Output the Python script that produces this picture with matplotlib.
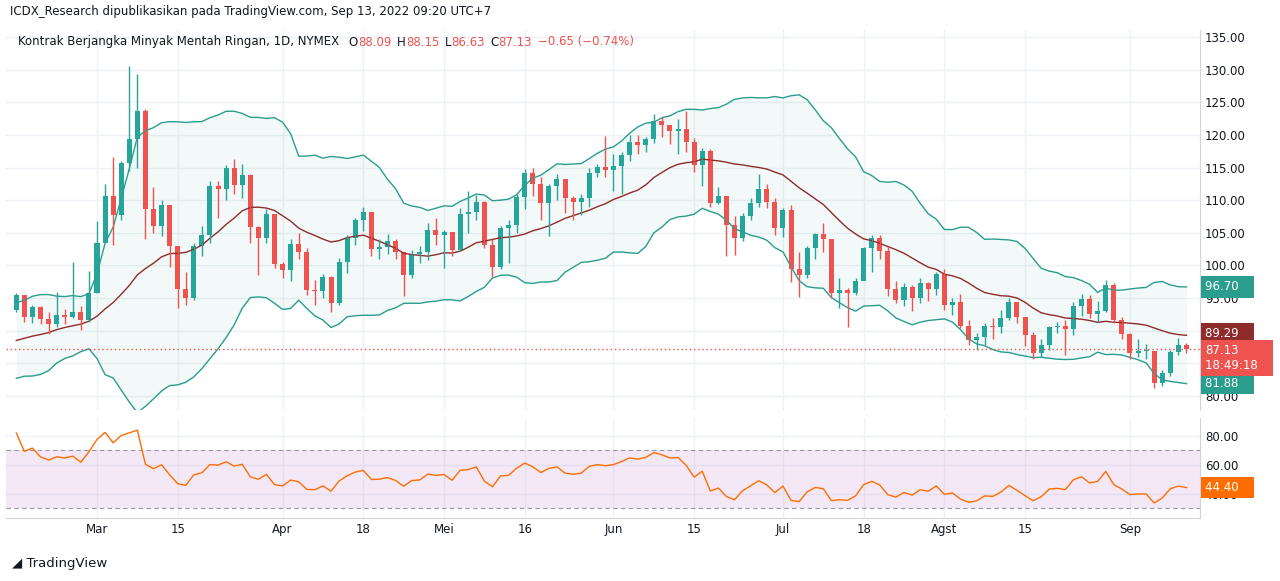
import matplotlib
matplotlib.use("Agg")
import matplotlib.pyplot as plt
import matplotlib.transforms as mtransforms
import numpy as np
import pandas as pd

# closes before the visible window (used only to warm up the indicators)
pre_closes = [83.82, 85.43, 86.96, 86.90, 85.14, 83.31, 85.60, 87.35, 86.61, 86.82,
              88.15, 88.20, 88.26, 90.27, 92.31, 91.32, 89.36, 89.66, 89.88, 93.10]

closes = [95.46, 92.07, 93.66, 91.76, 91.07, 92.35, 92.10, 92.81, 91.59, 95.72,
          103.41, 110.60, 107.67, 115.68, 119.40, 123.70, 108.70, 106.02, 109.33, 103.01,
          96.44, 95.04, 102.98, 104.70, 112.12, 111.76, 114.93, 112.34, 113.90, 105.96,
          104.24, 107.82, 100.28,
          99.27, 103.28, 102.00, 96.23, 96.03, 98.26, 94.29, 100.60, 104.25, 106.95,
          108.21, 102.56, 102.75, 103.79, 102.07, 98.54, 101.70, 102.02, 105.36, 104.69,
          105.17, 102.41, 107.81, 108.26, 109.77, 103.09, 99.76, 105.71, 106.13, 110.49,
          114.20, 112.40, 109.59, 112.21, 113.23, 110.29, 109.77, 110.33, 114.09, 115.07, 114.67,
          115.26, 116.87, 118.87, 118.50, 119.41, 122.11, 121.51, 120.67, 120.93, 118.93,
          115.31, 117.59, 109.56, 110.65, 106.19, 104.27, 107.62, 109.57, 111.76, 109.78, 105.76,
          108.43, 99.50, 98.53, 102.73, 104.79, 104.09, 95.84, 96.30, 95.78, 97.59,
          102.60, 104.22, 102.26, 96.35, 94.70, 96.70, 94.98, 97.26, 96.42, 98.62,
          93.89, 94.42, 90.66, 88.54, 89.01, 90.76, 90.50, 91.93, 94.34, 92.09,
          89.41, 86.53, 87.85, 90.50, 90.77, 90.23, 93.74, 94.89, 92.52, 93.06,
          97.01, 91.64, 89.55,
          86.61, 86.87, 86.88, 81.94, 83.54, 86.79, 87.78, 87.13]

highs = [95.82, 95.0, 94.0, 93.8, 92.9, 96.0, 93.3, 100.5, 93.8, 99.1,
         106.8, 112.5, 116.6, 116.0, 130.5, 129.4, 124.0, 112.0, 110.0, 109.0,
         103.0, 99.0, 103.5, 106.0, 112.9, 113.0, 115.4, 116.3, 115.5, 114.0,
         106.1, 108.6, 107.6,
         100.5, 104.0, 104.9, 102.6, 97.8, 98.7, 98.4, 101.2, 104.6, 107.3,
         109.0, 107.7, 104.0, 104.8, 104.0, 101.0, 102.4, 103.0, 106.5, 107.2,
         105.4, 105.0, 108.8, 111.4, 110.8, 109.8, 104.0, 106.0, 107.0, 110.9,
         114.8, 115.0, 113.5, 112.5, 114.0, 111.3, 110.6, 111.0, 115.0, 115.5, 119.9,
         117.0, 117.4, 120.0, 120.0, 119.6, 123.2, 122.7, 121.5, 122.5, 123.7,
         119.5, 118.0, 117.8, 112.0, 110.0, 107.5, 108.0, 110.3, 114.0, 112.5, 110.3,
         108.8, 109.3, 102.0, 103.0, 105.0, 106.5, 103.8, 98.0, 96.6, 98.0,
         102.8, 104.6, 104.6, 103.0, 97.6, 97.3, 97.0, 98.0, 97.4, 99.0,
         99.5, 95.0, 95.6, 91.6, 89.7, 91.2, 92.0, 93.2, 95.0, 94.3,
         91.9, 89.8, 88.7, 90.7, 91.4, 91.6, 94.4, 95.6, 95.4, 94.6,
         97.7, 97.3, 92.1,
         89.7, 88.8, 88.0, 86.7, 84.0, 87.0, 88.9, 88.15]

lows = [92.8, 91.3, 91.2, 91.0, 89.5, 90.5, 91.0, 92.0, 90.1, 91.3,
        95.7, 103.6, 103.1, 107.0, 114.5, 115.0, 104.0, 105.0, 104.5, 99.8,
        93.5, 94.0, 94.7, 101.5, 103.5, 107.2, 110.0, 110.9, 110.3, 103.5,
        98.5, 103.4, 99.6,
        98.0, 97.6, 101.0, 95.5, 94.0, 95.0, 92.9, 94.0, 98.8, 103.1,
        105.3, 101.5, 101.0, 101.7, 101.0, 95.3, 98.0, 100.4, 100.8, 103.2,
        99.6, 101.5, 102.2, 105.0, 107.0, 102.6, 98.2, 99.5, 100.3, 105.0,
        108.7, 110.6, 107.0, 104.5, 110.0, 108.0, 107.0, 107.8, 109.0, 113.6, 113.5,
        111.4, 111.0, 116.0, 117.0, 117.4, 118.8, 119.6, 118.6, 117.0, 117.4,
        114.3, 112.2, 108.9, 109.4, 101.5, 101.6, 103.8, 106.9, 109.0, 108.8, 104.6,
        104.4, 97.5, 95.1, 98.0, 101.0, 102.0, 95.0, 93.5, 90.6, 95.5,
        97.7, 99.0, 101.0, 95.3, 94.3, 93.8, 93.0, 94.3, 94.5, 95.5,
        93.2, 92.4, 90.4, 87.8, 87.0, 87.8, 88.8, 89.7, 91.6, 91.2,
        87.6, 85.7, 85.9, 87.0, 89.7, 86.3, 89.4, 92.3, 92.0, 91.3,
        92.9, 91.2, 88.7,
        85.7, 86.0, 85.6, 81.2, 81.5, 83.0, 86.3, 86.63]

holidays = ["2022-02-21", "2022-04-15", "2022-05-30", "2022-06-20", "2022-07-04", "2022-09-05"]
dates = [d for d in pd.bdate_range("2022-02-14", "2022-09-13") if d.strftime("%Y-%m-%d") not in holidays]

tick_dates = ["2022-03-01", "2022-03-15", "2022-04-01", "2022-04-18", "2022-05-02", "2022-05-16",
              "2022-06-01", "2022-06-15", "2022-07-01", "2022-07-18", "2022-08-01", "2022-08-15",
              "2022-09-01"]
tick_labels = ["Mar", "15", "Apr", "18", "Mei", "16", "Jun", "15", "Jul", "18", "Agst", "15", "Sep"]

UP = "#26a69a"
DOWN = "#ef5350"
BAND = "#2a9d8f"
GRID = "#eef1f6"
TEXT = "#131722"

n = len(closes)
x = np.arange(n)
opens = np.array([93.10] + closes[:-1])
closes_a = np.array(closes)
highs_a = np.array(highs)
lows_a = np.array(lows)

# indicators over the full history
allc = pd.Series(pre_closes + closes)
ma = allc.rolling(20).mean()
sd = allc.rolling(20).std(ddof=0)
upper = (ma + 2 * sd).values[-n:]
lower = (ma - 2 * sd).values[-n:]
mid = ma.values[-n:]
delta = allc.diff()
gain = delta.clip(lower=0).ewm(alpha=1 / 14, adjust=False).mean()
loss = (-delta.clip(upper=0)).ewm(alpha=1 / 14, adjust=False).mean()
rsi = (100 - 100 / (1 + gain / loss)).values[-n:]

W, H = 1280, 581
fig = plt.figure(figsize=(W / 100, H / 100), dpi=100)
left, right = 6 / W, 1200 / W
ax = fig.add_axes([left, 1 - 410 / H, right - left, 380 / H])
axr = fig.add_axes([left, 1 - 518 / H, right - left, 100 / H], sharex=ax)

x0, step = 16.3, 8.07
ax.set_xlim((6 - x0) / step, (1200 - x0) / step)
ax.set_ylim(77.85, 136.07)
axr.set_ylim(23.4, 92.4)

tick_idx = [i for i, d in enumerate(dates) if d.strftime("%Y-%m-%d") in tick_dates]
for a in (ax, axr):
    a.set_xticks(tick_idx)
    a.grid(True, color=GRID, linewidth=1)
    a.set_axisbelow(True)
    a.yaxis.tick_right()
    a.tick_params(length=0, labelsize=8.5, colors=TEXT)
    for s in ("top", "left", "bottom"):
        a.spines[s].set_visible(False)
    a.spines["right"].set_color("#d1d4dc")
ax.tick_params(labelbottom=False)
axr.set_xticklabels(tick_labels)
ax.set_yticks(np.arange(80, 136, 5))
ax.set_yticklabels([f"{v:.2f}" for v in np.arange(80, 136, 5)])
axr.set_yticks([40, 60, 80])
axr.set_yticklabels(["40.00", "60.00", "80.00"])
axr.spines["bottom"].set_visible(True)
axr.spines["bottom"].set_color("#d1d4dc")

# bollinger bands
ax.fill_between(x, lower, upper, color=BAND, alpha=0.06, linewidth=0)
ax.plot(x, upper, color=BAND, linewidth=1)
ax.plot(x, lower, color=BAND, linewidth=1)
ax.plot(x, mid, color="#8e2b2b", linewidth=1)

# candles
colors = np.where(closes_a >= opens, UP, DOWN)
ax.vlines(x, lows_a, highs_a, colors=colors, linewidth=1)
body = np.maximum(np.abs(closes_a - opens), 0.12)
ax.bar(x, body, bottom=np.minimum(opens, closes_a), width=0.62, color=colors, linewidth=0)

ax.axhline(closes[-1], color=DOWN, linestyle=(0, (1, 2)), linewidth=1)

# rsi
axr.axhspan(30, 70, color="#9c27b0", alpha=0.1, linewidth=0)
axr.axhline(70, color="#9598a1", linestyle=(0, (4, 3)), linewidth=0.8)
axr.axhline(30, color="#9598a1", linestyle=(0, (4, 3)), linewidth=0.8)
axr.plot(x, rsi, color="#ff6d00", linewidth=1)


def price_label(a, y, text, color):
    tr = mtransforms.blended_transform_factory(a.transAxes, a.transData)
    a.text(1.004, y, text + "   ", transform=tr, ha="left", va="center", color="white",
           fontsize=8.5, bbox=dict(boxstyle="square,pad=0.35", fc=color, ec="none"),
           clip_on=False, linespacing=1.25)


price_label(ax, upper[-1], f"{upper[-1]:.2f}", BAND)
price_label(ax, mid[-1] + 0.3, f"{mid[-1]:.2f}", "#8e2b2b")
price_label(ax, lower[-1], f"{lower[-1]:.2f}", BAND)
price_label(ax, closes[-1] - 1.3, f"{closes[-1]:.2f}\n18:49:18", DOWN)
price_label(axr, rsi[-1], f"{rsi[-1]:.2f}", "#ff6d00")

# header texts
fig.text(10 / W, 1 - 12 / H, "ICDX_Research dipublikasikan pada TradingView.com, Sep 13, 2022 09:20 UTC+7",
         fontsize=8.5, color=TEXT, va="center")
hy = 1 - 42 / H
prev = fig.text(18 / W, hy, "Kontrak Berjangka Minyak Mentah Ringan, 1D, NYMEX", fontsize=8.5,
                color=TEXT, va="center")
parts = [(7, "O", TEXT), (0, "88.09", DOWN), (4, "H", TEXT), (0, "88.15", DOWN),
         (4, "L", TEXT), (0, "86.63", DOWN), (4, "C", TEXT), (0, "87.13", DOWN),
         (4, "\u22120.65 (\u22120.74%)", DOWN)]
for gap, t, c in parts:
    prev = fig.text(0, 0, "", fontsize=8.5) if False else \
        plt.annotate(t, xy=(1, 0.5), xycoords=prev, xytext=(gap, 0), textcoords="offset points",
                     fontsize=8.5, color=c, va="center", ha="left", annotation_clip=False)
fig.text(12 / W, 1 - 563 / H, "\u25e2 TradingView", fontsize=9.5, color=TEXT, va="center")

fig.savefig("out.png", dpi=100, facecolor="white")
